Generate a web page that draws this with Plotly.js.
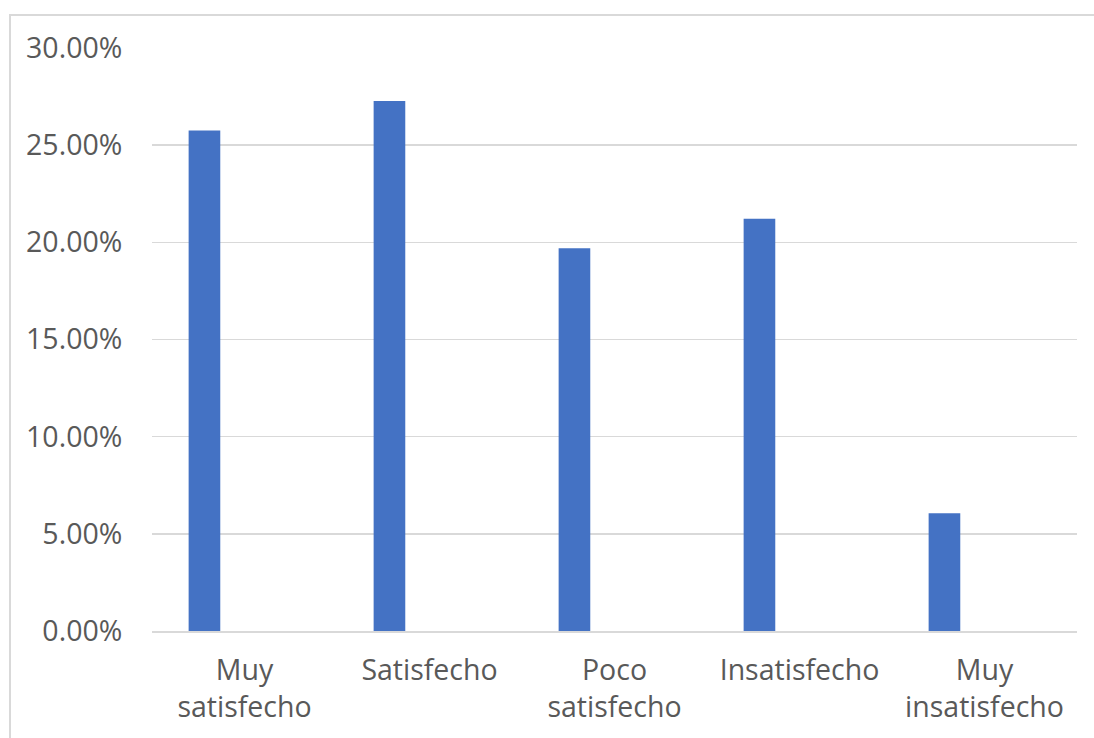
<!DOCTYPE html>
<html>
<head>
<meta charset="utf-8">
<script src="https://cdn.plot.ly/plotly-3.0.1.min.js"></script>
<style>
html,body{margin:0;padding:0;background:#fff;overflow:hidden;}
#frame{position:absolute;left:9px;top:14px;width:2000px;height:2000px;border-left:2px solid #d9d9d9;border-top:2px solid #d9d9d9;}
#chart{position:absolute;left:0;top:0;width:1094px;height:738px;}
</style>
</head>
<body>
<div id="frame"></div>
<div id="chart"></div>
<script>
const categories = ["Muy satisfecho", "Satisfecho", "Poco satisfecho", "Insatisfecho", "Muy insatisfecho"];
const tickLabels = ["Muy<br>satisfecho", "Satisfecho", "Poco<br>satisfecho", "Insatisfecho", "Muy<br>insatisfecho"];
const values = [25.76, 27.27, 19.70, 21.21, 6.06];
const yTicks = [0, 5, 10, 15, 20, 25, 30];

const trace = {
  type: 'bar',
  x: categories,
  y: values,
  marker: {color: '#4472C4'},
  offset: -0.302,
  width: 0.171,
  hoverinfo: 'x+y'
};

const layout = {
  width: 1094,
  height: 738,
  margin: {l: 152, r: 17, t: 48, b: 107},
  paper_bgcolor: 'rgba(0,0,0,0)',
  plot_bgcolor: 'rgba(0,0,0,0)',
  showlegend: false,
  font: {family: 'Open Sans, sans-serif', size: 28.5, color: '#595959'},
  xaxis: {
    type: 'category',
    range: [-0.5, 4.5],
    tickvals: categories,
    ticktext: tickLabels,
    showgrid: false,
    showline: true,
    linecolor: '#d9d9d9',
    linewidth: 1.5,
    ticks: 'outside',
    ticklen: 13,
    tickcolor: 'rgba(0,0,0,0)',
    zeroline: false,
    tickfont: {family: 'Open Sans, sans-serif', size: 28.5, color: '#595959'}
  },
  yaxis: {
    range: [0, 30],
    tickvals: yTicks,
    ticktext: yTicks.map(v => v.toFixed(2) + '%'),
    showgrid: true,
    gridcolor: '#d9d9d9',
    gridwidth: 1.5,
    zeroline: false,
    showline: false,
    ticks: 'outside',
    ticklen: 23,
    tickcolor: 'rgba(0,0,0,0)',
    tickfont: {family: 'Open Sans, sans-serif', size: 28.5, color: '#595959'}
  }
};

Plotly.newPlot('chart', [trace], layout, {displayModeBar: false, staticPlot: true});
</script>
</body>
</html>
